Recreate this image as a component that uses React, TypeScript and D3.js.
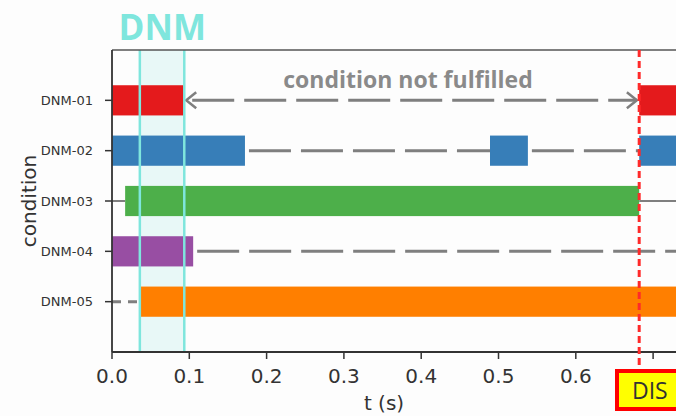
import React from "react";
import * as d3 from "d3";

// condition rows, top to bottom
const categories = ["DNM-01", "DNM-02", "DNM-03", "DNM-04", "DNM-05"];
const barColors = ["#e41a1c", "#377eb8", "#4daf4a", "#984ea3", "#ff7f00"];

// intervals where each condition is fulfilled (t in seconds)
const fulfilled: [number, number][][] = [
  [[0, 0.093], [0.682, 0.8]],
  [[0, 0.172], [0.489, 0.538], [0.682, 0.8]],
  [[0.017, 0.682]],
  [[0, 0.105]],
  [[0.036, 0.8]],
];

// gaps drawn as lines: [start, end, style]
const gaps: [number, number, "dash" | "solid" | "short"][][] = [
  [],
  [[0.172, 0.489, "dash"], [0.538, 0.682, "dash"]],
  [[0, 0.017, "solid"], [0.682, 0.8, "solid"]],
  [[0.105, 0.8, "dash"]],
  [[0, 0.036, "short"]],
];

// arrow annotation on DNM-01
const arrowSpan = [0.096, 0.679];
const dnmWindow = [0.036, 0.0935];
const disTime = 0.682;
const xTicks = [0, 0.1, 0.2, 0.3, 0.4, 0.5, 0.6, 0.7];
// the 0.7 label sits under the DIS box in the original
const hiddenTickLabels = [0.7];

const W = 676;
const H = 416;
const margin = { left: 112, top: 50, bottom: 352 };

export default function App() {
  const x = d3.scaleLinear().domain([0, 0.73]).range([margin.left, 676.3]);
  const y = d3.scaleLinear().domain([0, 6]).range([margin.top, margin.bottom]);
  const barH = y(0.6) - y(0);
  const gray = "#7f7f7f";
  const cyan = "#7fe6dd";

  return (
    <div style={{ position: "fixed", left: 0, top: 0 }}>
      <svg width={W} height={H} style={{ display: "block", background: "#fff" }}>
        <defs>
          <clipPath id="plot">
            <rect x={margin.left} y={0} width={W - margin.left} height={H} />
          </clipPath>
        </defs>
        <rect x={0} y={0} width={W} height={H} fill="#fdfdfd" />

        {/* DNM window band */}
        <rect
          x={x(dnmWindow[0])}
          y={margin.top}
          width={x(dnmWindow[1]) - x(dnmWindow[0])}
          height={margin.bottom - margin.top}
          fill="#e8f8f7"
        />

        <g clipPath="url(#plot)">
          {gaps.map((row, i) =>
            row.map(([a, b, s], j) => (
              <line
                key={`${i}-${j}`}
                x1={x(a)}
                x2={x(b)}
                y1={y(i + 1)}
                y2={y(i + 1)}
                stroke={gray}
                strokeWidth={s === "solid" ? 2 : 3}
                strokeDasharray={s === "dash" ? "42,10" : s === "short" ? "9,7" : undefined}
                strokeDashoffset={s === "dash" ? -4 : 0}
              />
            ))
          )}
          {fulfilled.map((row, i) =>
            row.map(([a, b], j) => (
              <rect
                key={`${i}-${j}`}
                x={x(a)}
                y={y(i + 1) - barH / 2}
                width={x(b) - x(a)}
                height={barH}
                fill={barColors[i]}
              />
            ))
          )}
        </g>

        {/* double arrow on DNM-01 */}
        <g stroke={gray} strokeWidth={3} fill="none">
          <line
            x1={x(arrowSpan[0])}
            x2={x(arrowSpan[1])}
            y1={y(1)}
            y2={y(1)}
            strokeDasharray="42,10"
            strokeDashoffset={-6}
          />
          <path
            d={`M${x(arrowSpan[0]) + 10},${y(1) - 8} L${x(arrowSpan[0])},${y(1)} L${x(arrowSpan[0]) + 10},${y(1) + 8}`}
            strokeWidth={2.5}
          />
          <path
            d={`M${x(arrowSpan[1]) - 10},${y(1) - 8} L${x(arrowSpan[1])},${y(1)} L${x(arrowSpan[1]) - 10},${y(1) + 8}`}
            strokeWidth={2.5}
          />
        </g>

        {/* DNM window edges */}
        {dnmWindow.map((t, i) => (
          <line key={i} x1={x(t)} x2={x(t)} y1={margin.top} y2={margin.bottom} stroke={cyan} strokeWidth={2.5} />
        ))}

        {/* spines */}
        <line x1={margin.left} x2={W} y1={margin.top} y2={margin.top} stroke="#555" strokeWidth={1.5} />
        <line x1={margin.left} x2={W} y1={margin.bottom} y2={margin.bottom} stroke="#333" strokeWidth={1.8} />
        <line x1={margin.left} x2={margin.left} y1={margin.top} y2={margin.bottom} stroke="#333" strokeWidth={1.8} />

        {/* y ticks */}
        {categories.map((c, i) => (
          <g key={c}>
            <line x1={margin.left - 7} x2={margin.left} y1={y(i + 1)} y2={y(i + 1)} stroke="#333" strokeWidth={1.5} />
            <text
              x={margin.left - 19}
              y={y(i + 1)}
              dy="0.35em"
              textAnchor="end"
              fontFamily="DejaVu Sans"
              fontSize={13}
              fill="#333"
            >
              {c}
            </text>
          </g>
        ))}

        {/* x ticks */}
        {xTicks.map((t) => (
          <g key={t}>
            <line x1={x(t)} x2={x(t)} y1={margin.bottom} y2={margin.bottom + 7} stroke="#333" strokeWidth={1.5} />
            {!hiddenTickLabels.includes(t) && (
              <text
                x={x(t)}
                y={383}
                textAnchor="middle"
                fontFamily="DejaVu Sans"
                fontSize={20}
                fill="#333"
              >
                {d3.format(".1f")(t)}
              </text>
            )}
          </g>
        ))}

        <text x={384} y={410} textAnchor="middle" fontFamily="DejaVu Sans" fontSize={20} fill="#333">
          t (s)
        </text>
        <text
          transform={`translate(36,${(margin.top + margin.bottom) / 2}) rotate(-90)`}
          textAnchor="middle"
          fontFamily="DejaVu Sans"
          fontSize={20}
          fill="#333"
        >
          condition
        </text>

        {/* annotations */}
        <text x={x(0.065)} y={40} textAnchor="middle" fontFamily="Open Sans" fontWeight={700} fontSize={35} fill={cyan}>
          DNM
        </text>
        <text x={408} y={88} textAnchor="middle" fontFamily="Open Sans" fontWeight={700} fontSize={23} fill="#8a8a8a">
          condition not fulfilled
        </text>

        {/* DIS marker */}
        <line
          x1={x(disTime)}
          x2={x(disTime)}
          y1={margin.top}
          y2={370}
          stroke="#ff2a2a"
          strokeWidth={3}
          strokeDasharray="7,4"
        />
        <rect x={617} y={371} width={70} height={38} fill="#ffff00" stroke="#ff0000" strokeWidth={4} />
        <text x={632} y={399} fontFamily="Open Sans" fontSize={23} fill="#333">
          DIS
        </text>
      </svg>
    </div>
  );
}
